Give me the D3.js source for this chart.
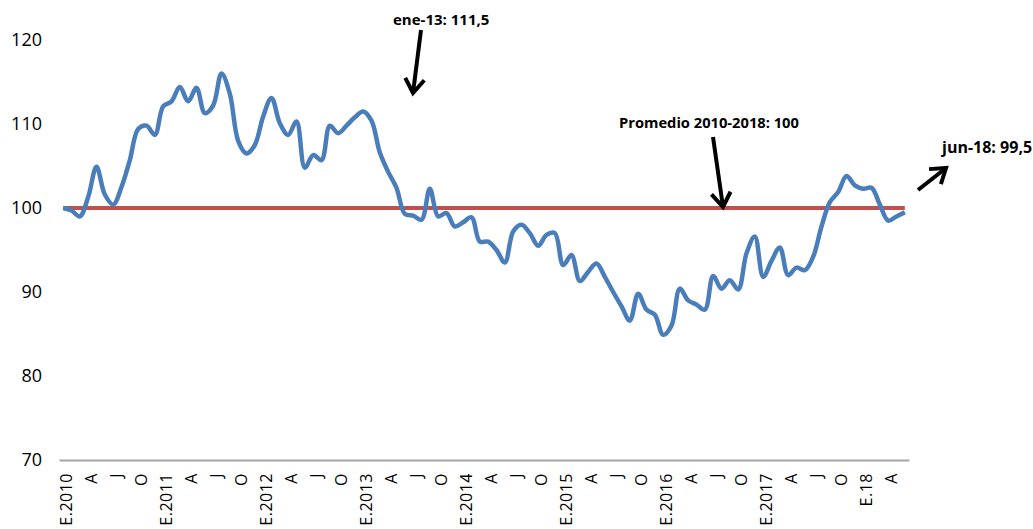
<!DOCTYPE html>
<html>
<head>
<meta charset="utf-8">
<script src="https://cdn.jsdelivr.net/npm/d3@7"></script>
<style>
	body { margin: 0; background: #fff; }
	svg { display: block; font-family: "Open Sans", sans-serif; }
</style>
</head>
<body>
<div id="chart"></div>
<script>
// month abbreviations and years (ene-10 ... jun-18)
var monthNames = ["ene", "feb", "mar", "abr", "may", "jun", "jul", "ago", "sep", "oct", "nov", "dic"];
var years = [10, 11, 12, 13, 14, 15, 16, 17, 18];

// index values, one per month, ene-10 to jun-18
var indexValues = [
	100.0, 99.7, 99.0, 101.3, 104.9, 101.6, 100.4, 102.5, 105.7, 109.4, 109.8, 108.7,
	112.1, 112.7, 114.4, 112.7, 114.3, 111.3, 112.2, 116.0, 113.6, 108.0, 106.5, 107.5,
	110.9, 113.1, 110.1, 108.7, 110.3, 104.8, 106.3, 105.7, 109.8, 108.9, 109.8, 110.8,
	111.5, 110.4, 106.6, 104.3, 102.4, 99.3, 99.1, 98.6, 102.3, 99.0, 99.4, 97.8,
	98.3, 98.9, 96.0, 96.0, 95.0, 93.5, 97.2, 98.0, 97.0, 95.5, 96.8, 97.0,
	93.2, 94.4, 91.3, 92.4, 93.4, 91.8, 90.0, 88.3, 86.6, 89.8, 87.9, 87.3,
	84.9, 86.0, 90.4, 89.0, 88.5, 87.9, 91.9, 90.4, 91.4, 90.3, 94.6, 96.6,
	91.8, 93.7, 95.3, 92.0, 92.9, 92.6, 94.2, 97.8, 100.7, 101.9, 103.8, 102.7,
	102.3, 102.4, 100.4, 98.5, 99.0, 99.5
];

// average 2010-2018
var averageValue = 100;

// x axis labels, every third month
var tickLabels = [
	"E.2010", "A", "J", "O", "E.2011", "A", "J", "O", "E.2012", "A", "J", "O",
	"E.2013", "A", "J", "O", "E.2014", "A", "J", "O", "E.2015", "A", "J", "O",
	"E.2016", "A", "J", "O", "E.2017", "A", "J", "O", "E.18", "A"
];
var yTicks = [70, 80, 90, 100, 110, 120];

var months = [];
years.forEach(function (yr) {
	monthNames.forEach(function (m) {
		if (months.length < indexValues.length) months.push(m + "-" + yr);
	});
});

var data = months.map(function (m, i) {
	return { month: m, value: indexValues[i] };
});

var width = 1033,
	height = 529;

var svg = d3.select("#chart")
	.append("svg")
	.attr("width", width)
	.attr("height", height);

var x = d3.scalePoint()
	.domain(months)
	.range([59, 909])
	.padding(0.5);

var y = d3.scaleLinear()
	.domain([70, 120])
	.range([460, 40]);

// y axis, labels only
var yAxis = svg.append("g")
	.attr("transform", "translate(42,0)")
	.attr("font-family", null)
	.call(d3.axisLeft(y).tickValues(yTicks).tickSize(0).tickPadding(0));
yAxis.attr("font-family", null);
yAxis.select(".domain").remove();
yAxis.selectAll("text")
	.style("font-family", "'Open Sans', sans-serif")
	.style("font-size", "18px")
	.style("fill", "#000");

// x axis
var tickMonths = months.filter(function (d, i) { return i % 3 === 0; });
var xAxis = svg.append("g")
	.attr("transform", "translate(0," + y(70) + ")")
	.call(d3.axisBottom(x)
		.tickValues(tickMonths)
		.tickSize(0)
		.tickSizeOuter(0)
		.tickFormat(function (d, i) { return tickLabels[i]; }));
xAxis.attr("font-family", null);
xAxis.select(".domain")
	.attr("stroke", "#a6a6a6")
	.attr("stroke-width", 2);
xAxis.selectAll("text")
	.attr("transform", "rotate(-90)")
	.attr("x", -13)
	.attr("y", 0)
	.attr("dy", "0.5em")
	.attr("text-anchor", "end")
	.style("font-family", "'Open Sans', sans-serif")
	.style("font-size", "16px")
	.style("letter-spacing", "0.5px")
	.style("fill", "#000");

// average line
svg.append("line")
	.attr("x1", x(months[0]))
	.attr("x2", x(months[months.length - 1]))
	.attr("y1", y(averageValue))
	.attr("y2", y(averageValue))
	.attr("stroke", "#c0504d")
	.attr("stroke-width", 4);

// index line
var line = d3.line()
	.x(function (d) { return x(d.month); })
	.y(function (d) { return y(d.value); })
	.curve(d3.curveCatmullRom);

svg.append("path")
	.datum(data)
	.attr("d", line)
	.attr("fill", "none")
	.attr("stroke", "#4a7ebb")
	.attr("stroke-width", 4.5)
	.attr("stroke-linejoin", "round");

// annotations
var notes = [
	{ text: "ene-13: 111,5", size: 15, tx: 393, ty: 25, from: [421, 30], to: [413, 93] },
	{ text: "Promedio 2010-2018: 100", size: 14.7, tx: 619, ty: 128, from: [713, 137], to: [723, 207] },
	{ text: "jun-18: 99,5", size: 16, tx: 942, ty: 153, from: [918, 190], to: [946, 168] }
];

function arrowHead(from, to, len, spread) {
	var ang = Math.atan2(to[1] - from[1], to[0] - from[0]);
	var a1 = ang + Math.PI - spread,
		a2 = ang + Math.PI + spread;
	return [
		[to[0] + len * Math.cos(a1), to[1] + len * Math.sin(a1)],
		to,
		[to[0] + len * Math.cos(a2), to[1] + len * Math.sin(a2)]
	];
}

notes.forEach(function (n) {
	svg.append("text")
		.attr("x", n.tx)
		.attr("y", n.ty)
		.style("font-size", n.size + "px")
		.style("font-weight", "bold")
		.style("fill", "#000")
		.text(n.text);
	svg.append("line")
		.attr("x1", n.from[0])
		.attr("y1", n.from[1])
		.attr("x2", n.to[0])
		.attr("y2", n.to[1])
		.attr("stroke", "#000")
		.attr("stroke-width", 4);
	svg.append("path")
		.attr("d", d3.line()(arrowHead(n.from, n.to, 17, 0.6)))
		.attr("fill", "none")
		.attr("stroke", "#000")
		.attr("stroke-width", 4)
		.attr("stroke-linejoin", "miter");
});
</script>
</body>
</html>
